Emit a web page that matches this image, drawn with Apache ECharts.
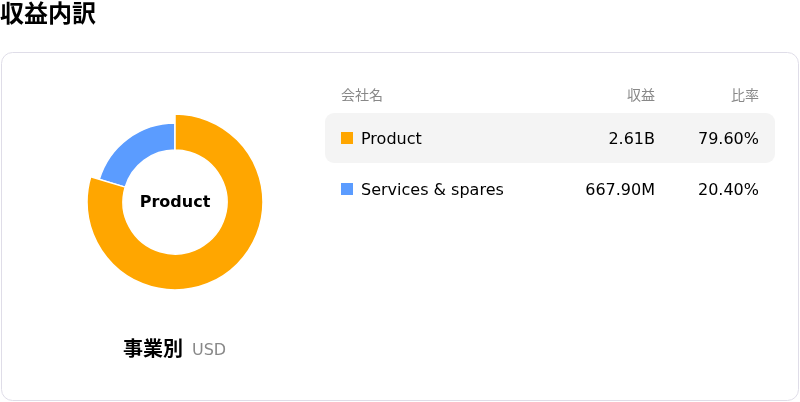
<!DOCTYPE html>
<html>
<head>
<meta charset="utf-8">
<script src="https://cdn.jsdelivr.net/npm/echarts@6/dist/echarts.min.js"></script>
<style>
  html, body { margin: 0; padding: 0; background: #fff; }
  #main { width: 800px; height: 402px; }
</style>
</head>
<body>
<div id="main"></div>
<script>
// データ
const segments = ['Product', 'Services & spares'];
const revenue = [2610, 667.9]; // 百万USD
const revenueLabels = ['2.61B', '667.90M'];
const shareLabels = ['79.60%', '20.40%'];
const colors = ['#ffa600', '#5b9cff'];
const headers = ['会社名', '収益', '比率'];

const FONT = '"DejaVu Sans", "Noto Sans CJK JP", sans-serif';

let myChart;

function init() {
	myChart = echarts.init(document.getElementById('main'));

	let graphics = [];

	// タイトル
	graphics.push({
		type: 'text', x: 0, y: 16,
		style: { text: '収益内訳', font: 'bold 24px ' + FONT, fill: '#000', verticalAlign: 'middle' }
	});
	// カード
	graphics.push({
		type: 'rect', shape: { x: 1.5, y: 52.5, width: 797, height: 348, r: 11 },
		style: { fill: '#fff', stroke: '#dfdde8', lineWidth: 1 }, z: -10
	});

	// ヘッダー
	let hy = 96;
	graphics.push({ type: 'text', x: 341, y: hy, style: { text: headers[0], font: '14px ' + FONT, fill: '#888', verticalAlign: 'middle' } });
	graphics.push({ type: 'text', x: 655, y: hy, style: { text: headers[1], font: '14px ' + FONT, fill: '#888', verticalAlign: 'middle', align: 'right' } });
	graphics.push({ type: 'text', x: 759, y: hy, style: { text: headers[2], font: '14px ' + FONT, fill: '#888', verticalAlign: 'middle', align: 'right' } });

	// 行
	for (let i = 0; i < segments.length; i++) {
		let cy = 138 + i * 51;
		if (i === 0) {
			graphics.push({
				type: 'rect', shape: { x: 325, y: cy - 25, width: 450, height: 50, r: 9 },
				style: { fill: '#f4f4f4' }, z: -5
			});
		}
		graphics.push({ type: 'rect', shape: { x: 341, y: cy - 6, width: 12, height: 12 }, style: { fill: colors[i] } });
		graphics.push({ type: 'text', x: 361, y: cy + 2, style: { text: segments[i], font: '16px ' + FONT, fill: '#000', verticalAlign: 'middle' } });
		graphics.push({ type: 'text', x: 655, y: cy + 2, style: { text: revenueLabels[i], font: '16px ' + FONT, fill: '#000', verticalAlign: 'middle', align: 'right' } });
		graphics.push({ type: 'text', x: 759, y: cy + 2, style: { text: shareLabels[i], font: '16px ' + FONT, fill: '#000', verticalAlign: 'middle', align: 'right' } });
	}

	// ドーナツ中央
	graphics.push({ type: 'text', x: 175, y: 203, style: { text: segments[0], font: 'bold 16px ' + FONT, fill: '#000', align: 'center', verticalAlign: 'middle' }, z: 10 });
	// 下部ラベル
	graphics.push({ type: 'text', x: 183, y: 351, style: { text: '事業別', font: 'bold 20px ' + FONT, fill: '#000', align: 'right', verticalAlign: 'middle' } });
	graphics.push({ type: 'text', x: 192, y: 351, style: { text: 'USD', font: '16px ' + FONT, fill: '#888', verticalAlign: 'middle' } });

	let option = {
		animation: false,
		graphic: graphics,
		series: [{
			type: 'pie',
			center: [175, 202],
			radius: [52, 79],
			startAngle: 90,
			label: { show: false },
			labelLine: { show: false },
			itemStyle: { borderColor: '#fff', borderWidth: 1.5 },
			emphasis: { scale: true, scaleSize: 9, label: { show: false } },
			data: segments.map(function (name, i) {
				return {
					name: name, value: revenue[i],
					itemStyle: { color: colors[i] },
					emphasis: { itemStyle: { color: colors[i] } }
				};
			})
		}]
	};
	myChart.setOption(option);
	myChart.dispatchAction({ type: 'highlight', seriesIndex: 0, dataIndex: 0 });
}

init();
</script>
</body>
</html>
